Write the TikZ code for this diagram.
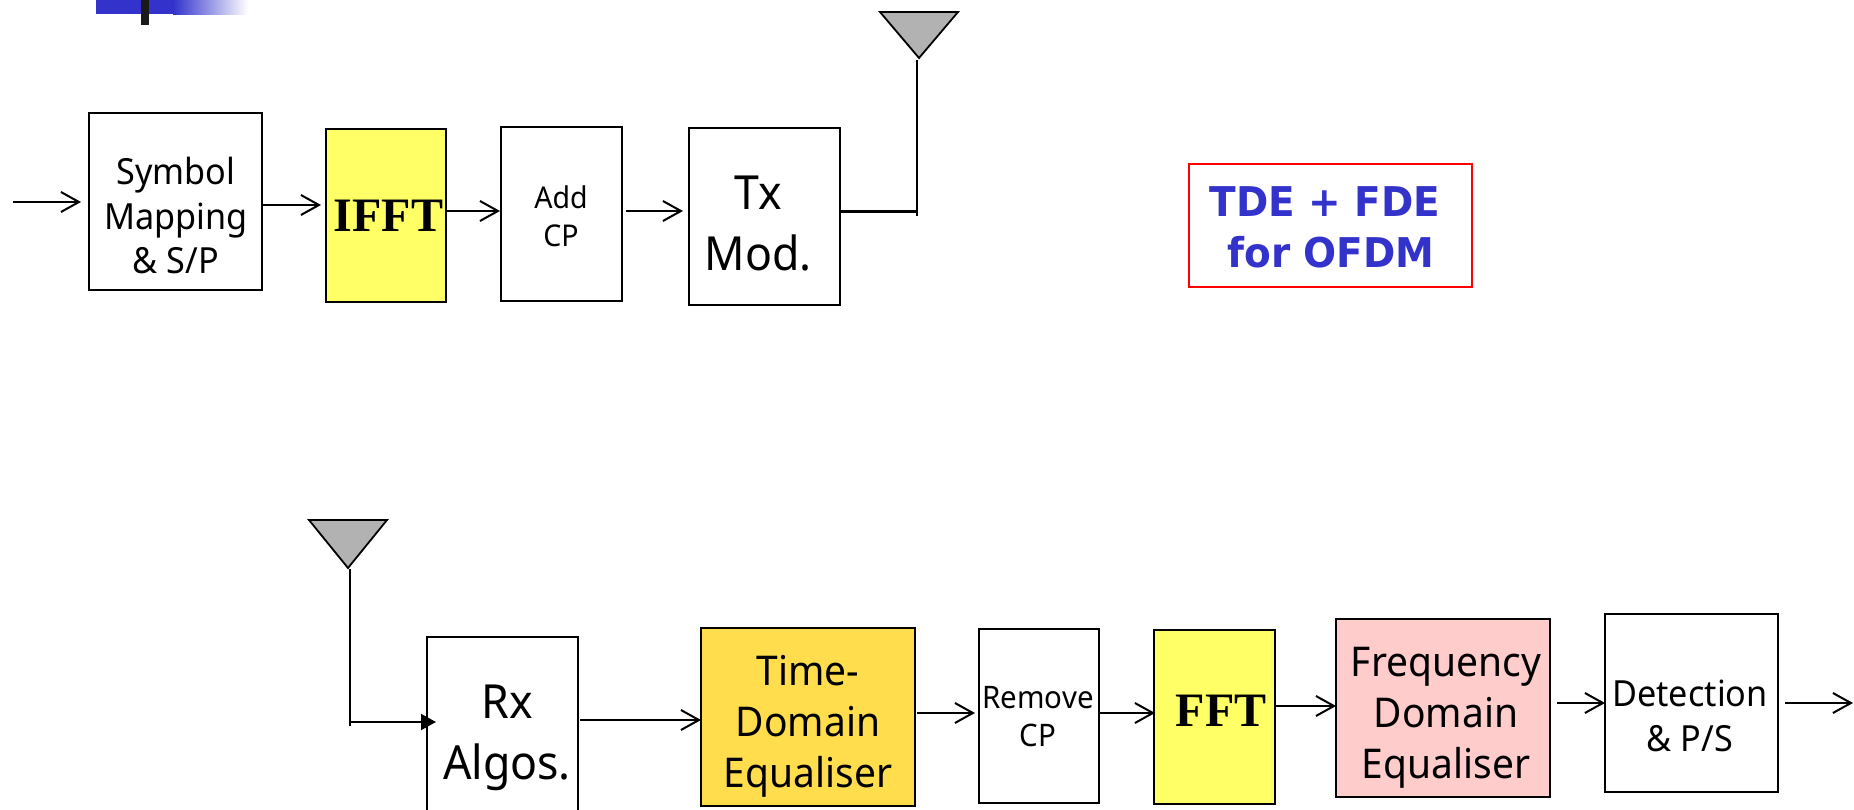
\documentclass[tikz,border=0pt]{standalone}
\usepackage{fontspec}
\setmainfont{Noto Sans}[FakeStretch=0.95]
\newfontfamily\timesfont{Liberation Serif}
\newfontfamily\boldfont{DejaVu Sans}[FakeStretch=0.95]
\usetikzlibrary{arrows.meta}
\definecolor{bluehd}{HTML}{3333CC}
\definecolor{yel}{HTML}{FFFF66}
\definecolor{gold}{HTML}{FFDD4D}
\definecolor{pinkb}{HTML}{FFCCCC}
\definecolor{antgray}{HTML}{B2B2B2}
\newcommand{\fsz}[2]{\fontsize{#1}{#2}\selectfont}
\tikzset{
  blockbox/.style={draw=black,line width=1.8pt,fill=white,outer sep=0pt,inner sep=0pt,anchor=center},
  lab/.style={align=center,text=black,inner sep=0pt,anchor=center},
  arr/.style={draw=black,line width=2pt,-{Straight Barb[length=18pt,width=20pt,line width=2pt]}},
  wire/.style={draw=black,line width=2pt},
  ant/.style={draw=black,line width=1.8pt,fill=antgray,line join=miter},
}
\begin{document}
\begin{tikzpicture}[x=1pt,y=-1pt]
\useasboundingbox (0,0) rectangle (1854,810);
\clip (0,0) rectangle (1854,810);
% header
\fill[bluehd] (96,0) rectangle (174,14);
\shade[left color=bluehd,right color=white] (173,0) rectangle (248,15);
\fill[black!90] (141,0) rectangle (149,25);
% top row
\node[blockbox,minimum width=173pt,minimum height=177pt] (sym) at (175.5,201.5) {};
\node[blockbox,fill=yel,minimum width=120pt,minimum height=173pt] (ifft) at (386,215.5) {};
\node[blockbox,minimum width=121pt,minimum height=174pt] (add) at (561.5,214) {};
\node[blockbox,minimum width=151pt,minimum height=177pt] (tx) at (764.5,216.5) {};
\node[lab,font=\fsz{36}{44.5}] (symt) at (176,216) {Symbol\\Mapping\\\& S/P};
\node[lab,font={\timesfont\bfseries\fsz{48}{50}}] (ifftt) at (388.5,216) {IFFT};
\node[lab,font=\fsz{30}{38}] (addt) at (561,216) {Add\\CP};
\node[lab,font=\fsz{47}{61}] (txt) at (758,224) {Tx\\Mod.};
% antenna tx
\draw[ant] (880,12) -- (958,12) -- (919,58) -- cycle;
\coordinate (txtop) at (917,60);
\coordinate (txbot) at (917,216);
\draw[wire] (txtop) -- (txbot);
\draw[draw=black,line width=3pt] (tx.east |- 0,212) -- (txtop |- 0,212);
% top arrows
\coordinate (in) at (13,202);
\draw[arr,shorten >=8pt] (in) -- (sym.west |- in);
\draw[arr,shorten >=5pt] (sym.east |- 0,205) -- (ifft.west |- 0,205);
\draw[arr,shorten >=1pt] (ifft.east |- 0,211) -- (add.west |- 0,211);
\draw[arr,shorten <=4pt,shorten >=6pt] (add.east |- 0,211) -- (tx.west |- 0,211);
% label box
\node[draw=red,line width=1.8pt,outer sep=0pt,minimum width=283pt,minimum height=123pt] (tf) at (1330.5,225.5) {};
\node[align=center,inner sep=0pt,text=bluehd,font={\boldfont\bfseries\fsz{41}{51}}] (tft) at (1325,227) {TDE + FDE\\\hspace*{12pt}for OFDM};
% bottom row
\node[blockbox,minimum width=151pt,minimum height=200pt] (rx) at (502.5,737) {};
\node[blockbox,fill=gold,minimum width=214pt,minimum height=178pt] (tde) at (808,717) {};
\node[blockbox,minimum width=120pt,minimum height=174pt] (rem) at (1039,716) {};
\node[blockbox,fill=yel,minimum width=121pt,minimum height=174pt] (fft) at (1214.5,717) {};
\node[blockbox,fill=pinkb,minimum width=214pt,minimum height=178pt] (fde) at (1443,708) {};
\node[blockbox,minimum width=173pt,minimum height=178pt] (det) at (1691.5,703) {};
\node[lab,font=\fsz{47}{61}] (rxt) at (507,738) {Rx\\Algos.};
\node[lab,font=\fsz{41}{51}] (tdet) at (808,726) {Time-\\Domain\\Equaliser};
\node[lab,font=\fsz{31}{38}] (remt) at (1038,717) {Remove\\CP};
\node[lab,font={\timesfont\bfseries\fsz{48}{50}}] (fftt) at (1221,711) {FFT};
\node[lab,font=\fsz{41}{51}] (fdet) at (1446,718) {Frequency\\Domain\\Equaliser};
\node[lab,font=\fsz{36}{44.5}] (dett) at (1690,716) {Detection\\\& P/S};
% antenna rx
\draw[ant] (309,520) -- (387,520) -- (348,568) -- cycle;
\coordinate (rxtop) at (350,569);
\coordinate (rxbot) at (350,726);
\draw[wire] (rxtop) -- (rxbot);
\draw[draw=black,line width=2pt,shorten >=-9pt,-{Triangle[length=15pt,width=16pt]}] (rxtop |- 0,722) -- (rx.west |- 0,722);
% bottom arrows
\draw[arr,shorten <=2pt] (rx.east |- 0,720) -- (tde.west |- 0,720);
\draw[arr,shorten <=2pt,shorten >=4pt] (tde.east |- 0,713) -- (rem.west |- 0,713);
\draw[arr,shorten >=-1pt] (rem.east |- 0,713) -- (fft.west |- 0,713);
\draw[arr] (fft.east |- 0,706) -- (fde.west |- 0,706);
\draw[arr,shorten <=7pt] (fde.east |- 0,703) -- (det.west |- 0,703);
\coordinate (out) at (1853,703);
\draw[arr,shorten <=7pt] (det.east |- out) -- (out);
\end{tikzpicture}
\end{document}
